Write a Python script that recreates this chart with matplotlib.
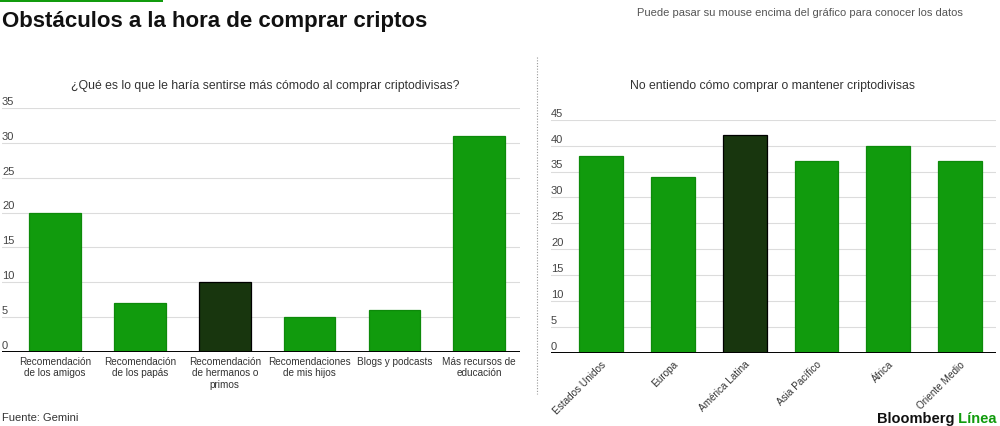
"""Obstáculos a la hora de comprar criptos — dos paneles de barras."""
import matplotlib
matplotlib.use("Agg")
import matplotlib.pyplot as plt
from matplotlib.lines import Line2D
from matplotlib.patches import Rectangle
from matplotlib.transforms import blended_transform_factory, offset_copy

plt.rcParams["font.family"] = ["Liberation Sans", "DejaVu Sans"]

GREEN = "#119b0d"
DARK = "#18360e"
GRID = "#dcdcdc"

# Panel izquierdo
left_cats = [
    "Recomendación\nde los amigos",
    "Recomendación\nde los papás",
    "Recomendación\nde hermanos o\nprimos",
    "Recomendaciones\nde mis hijos",
    "Blogs y podcasts",
    "Más recursos de\neducación",
]
left_vals = [20, 7, 10, 5, 6, 31]
left_hilite = 2
left_ticks = [0, 5, 10, 15, 20, 25, 30, 35]

# Panel derecho
right_cats = ["Estados Unidos", "Europa", "América Latina", "Asia Pacífico", "África", "Oriente Medio"]
right_vals = [38, 34, 42, 37, 40, 37]
right_hilite = 2
right_ticks = [0, 5, 10, 15, 20, 25, 30, 35, 40, 45]

W, H = 1000, 427


def px_axes(fig, x0, x1, y_top, y_bottom):
    return fig.add_axes([x0 / W, (H - y_bottom) / H, (x1 - x0) / W, (y_bottom - y_top) / H])


def draw_panel(ax, vals, hilite, ticks, xlim):
    colors = [DARK if i == hilite else GREEN for i in range(len(vals))]
    edges = ["#000000" if i == hilite else "#0d8a0a" for i in range(len(vals))]
    ax.bar(range(len(vals)), vals, width=0.61, color=colors, edgecolor=edges, linewidth=0.9, zorder=3)
    ax.set_xlim(*xlim)
    ax.set_ylim(0, ticks[-1])
    for t in ticks[1:]:
        ax.axhline(t, color=GRID, linewidth=0.8, zorder=1)
    ax.axhline(0, color="black", linewidth=1.4, zorder=4)
    trans = offset_copy(blended_transform_factory(ax.transAxes, ax.transData), fig=ax.figure,
                        x=0, y=1.5, units="points")
    for t in ticks:
        ax.text(0, t, str(t), transform=trans, ha="left", va="bottom", fontsize=8, color="#444444")
    for s in ax.spines.values():
        s.set_visible(False)
    ax.set_yticks([])
    ax.tick_params(axis="x", length=0)


fig = plt.figure(figsize=(W / 100, H / 100), dpi=100)
fig.patch.set_facecolor("white")

# barra verde superior
fig.patches.append(Rectangle((0, (H - 3) / H), 163 / W, 3 / H, transform=fig.transFigure,
                             facecolor=GREEN, edgecolor="none"))

fig.text(2 / W, 1 - 21 / H, "Obstáculos a la hora de comprar criptos", fontsize=16,
         fontweight="bold", color="#111111", va="center", ha="left")
fig.text(800 / W, 1 - 13 / H, "Puede pasar su mouse encima del gráfico para conocer los datos",
         fontsize=8, color="#555555", ha="center", va="center")

# separador
fig.lines.append(Line2D([537 / W, 537 / W], [1 - 58 / H, 1 - 395 / H], transform=fig.transFigure,
                        color="#999999", linewidth=0.8, linestyle=(0, (1, 1.5))))

ax1 = px_axes(fig, 2, 520, 109, 353)
draw_panel(ax1, left_vals, left_hilite, left_ticks, (-0.625, 5.48))
ax1.set_xticks(range(len(left_cats)))
ax1.set_xticklabels(left_cats, fontsize=7.2, color="#333333", linespacing=1.15)
ax1.tick_params(axis="x", pad=3)
fig.text(265 / W, 1 - 86 / H, "¿Qué es lo que le haría sentirse más cómodo al comprar criptodivisas?",
         fontsize=8.8, color="#333333", ha="center", va="center")

ax2 = px_axes(fig, 551, 996, 120.7, 354)
draw_panel(ax2, right_vals, right_hilite, right_ticks, (-0.70, 5.50))
ax2.set_xticks(range(len(right_cats)))
ax2.set_xticklabels(right_cats, fontsize=7.2, color="#333333", rotation=45, ha="right",
                    rotation_mode="anchor")
ax2.tick_params(axis="x", pad=4)
fig.text(772 / W, 1 - 86 / H, "No entiendo cómo comprar o mantener criptodivisas",
         fontsize=8.8, color="#333333", ha="center", va="center")

fig.text(2 / W, 1 - 418 / H, "Fuente: Gemini", fontsize=8, color="#333333", ha="left", va="center")
brand = fig.text(877 / W, 1 - 426 / H, "Bloomberg", fontsize=10.5, fontweight="bold",
                 color="#111111", ha="left", va="bottom")
ax1.annotate(" Línea", xy=(1, 0), xycoords=brand, ha="left", va="bottom", fontsize=10.5,
             fontweight="bold", color=GREEN, annotation_clip=False)

fig.savefig("out.png", dpi=100, facecolor="white")
